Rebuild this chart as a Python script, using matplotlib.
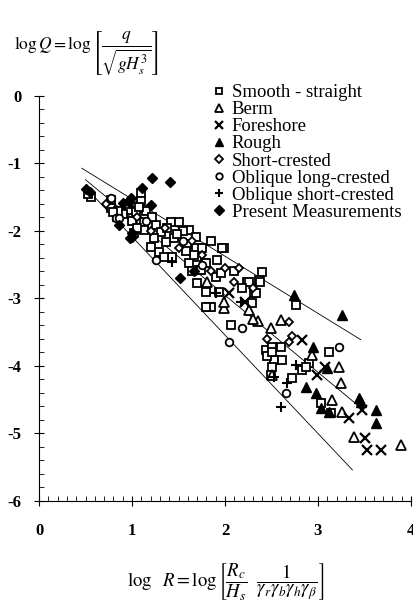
import numpy as np
import matplotlib
matplotlib.use("Agg")
import matplotlib.pyplot as plt
from matplotlib.ticker import MultipleLocator

plt.rcParams["font.family"] = ["Liberation Serif", "DejaVu Serif"]
plt.rcParams["mathtext.fontset"] = "stix"

# ---------------- data ----------------
smooth_x = [0.56, 0.53, 0.77, 0.77, 0.84, 0.97, 1.10, 1.10, 1.04, 1.13, 1.42, 1.51, 1.26, 1.31,
            1.45, 1.37, 1.24, 1.13, 1.02, 1.20, 1.29, 1.43, 1.34, 1.61, 1.69, 1.99, 1.91, 1.90,
            2.40, 2.37, 2.24, 1.59, 1.69, 1.77, 1.70, 1.80, 1.83, 2.06, 1.70, 1.61, 1.72, 2.38,
            2.31, 2.29, 2.76, 2.44, 2.51, 2.53, 2.61, 3.12, 2.90, 2.83, 3.03, 2.72, 1.94, 1.85,
            1.80, 2.33, 2.60, 2.51, 2.49, 2.87, 3.14, 1.97, 1.75, 1.80, 1.67, 1.74, 1.65, 1.96,
            0.95, 0.90, 0.85, 1.00, 1.05, 1.15, 1.85, 1.55, 2.45, 2.50, 2.26, 1.38, 1.48, 1.58,
            2.10, 2.18, 1.22, 1.08, 0.80]
smooth_y = [-1.50, -1.45, -1.54, -1.66, -1.79, -1.69, -1.44, -1.56, -1.72, -1.87, -1.87, -1.87, -1.91, -2.01,
            -2.10, -2.16, -2.10, -1.99, -2.03, -2.24, -2.31, -2.38, -2.38, -1.99, -2.09, -2.25, -2.43, -2.68,
            -2.61, -2.73, -2.76, -2.20, -2.25, -2.47, -2.77, -2.90, -3.12, -3.39, -2.38, -2.48, -2.58, -2.76,
            -2.92, -3.07, -3.10, -3.76, -3.72, -3.91, -3.91, -3.79, -3.96, -4.06, -4.55, -4.18, -2.90, -3.13,
            -3.13, -2.92, -3.72, -4.01, -4.13, -4.01, -4.70, -2.25, -2.25, -2.47, -2.36, -2.58, -2.60, -2.62,
            -1.60, -1.75, -1.70, -1.85, -1.95, -1.70, -2.15, -2.00, -3.85, -3.80, -2.76, -1.95, -2.05, -2.30,
            -2.60, -2.85, -1.80, -1.65, -1.72]

berm_x = [2.26, 2.35, 2.60, 2.49, 2.94, 3.23, 3.25, 3.15, 3.26, 3.39, 3.89, 2.51, 1.99, 1.81, 1.99, 2.30]
berm_y = [-3.17, -3.34, -3.32, -3.44, -3.84, -4.01, -4.25, -4.50, -4.68, -5.05, -5.17, -4.13, -3.14, -2.76, -3.05, -3.30]

foreshore_x = [2.83, 3.33, 3.51, 3.53, 3.68, 3.47, 2.99, 3.08, 2.04, 2.22]
foreshore_y = [-3.61, -4.77, -5.07, -5.24, -5.24, -4.65, -4.13, -4.01, -2.92, -3.05]

rough_x = [2.74, 3.26, 2.95, 3.10, 2.87, 2.98, 3.03, 3.12, 3.44, 3.46, 3.62, 3.62]
rough_y = [-2.95, -3.24, -3.72, -4.03, -4.31, -4.40, -4.62, -4.68, -4.47, -4.53, -4.65, -4.85]

short_x = [2.69, 2.72, 2.69, 1.05, 1.20, 1.35, 1.50, 1.65, 1.75, 1.85, 2.00, 2.10, 2.15, 2.30, 2.45, 0.72]
short_y = [-3.35, -3.55, -3.65, -1.80, -2.00, -1.95, -2.25, -2.15, -2.35, -2.60, -2.55, -2.75, -2.55, -2.85, -3.60, -1.60]

oblong_x = [0.77, 0.83, 1.26, 2.04, 2.18, 2.66, 3.23, 0.86, 1.15, 1.55, 1.75]
oblong_y = [-1.51, -1.81, -2.43, -3.64, -3.44, -4.40, -3.72, -1.81, -1.85, -2.15, -2.50]

obshort_x = [2.60, 2.76, 2.53, 1.90, 1.43, 2.67, 2.17]
obshort_y = [-4.61, -3.99, -4.16, -2.92, -2.46, -4.25, -3.05]

present_x = [0.50, 0.55, 1.22, 1.41, 1.11, 1.20, 1.00, 0.98, 0.86, 1.52, 1.67, 0.99, 0.90, 0.97, 1.00]
present_y = [-1.38, -1.42, -1.21, -1.27, -1.37, -1.61, -2.03, -2.10, -1.91, -2.69, -2.60, -1.51, -1.58, -1.57, -2.09]

# fitted lines: (x_start, x_end), (y_start, y_end)
line_upper_x = [0.46, 3.46]
line_upper_y = [-1.07, -3.61]
line_mid_x = [0.50, 3.47]
line_mid_y = [-1.24, -4.63]
line_low_x = [0.60, 3.37]
line_low_y = [-1.50, -5.54]

x_ticks = [0, 1, 2, 3, 4]
y_ticks = [0, -1, -2, -3, -4, -5, -6]

# ---------------- plot ----------------
fig = plt.figure(figsize=(4.13, 6.03), dpi=100)
ax = fig.add_axes([39 / 413, 102 / 603, 372 / 413, 405 / 603])

for lx, ly in [(line_upper_x, line_upper_y), (line_mid_x, line_mid_y), (line_low_x, line_low_y)]:
    ax.plot(lx, ly, color="black", lw=0.6, zorder=1)

ms = 5.5
mew = 1.3
ax.plot(smooth_x, smooth_y, ls="none", marker="s", ms=ms, mfc="white", mec="black", mew=mew,
        label="Smooth - straight")
ax.plot(berm_x, berm_y, ls="none", marker="^", ms=ms + 1, mfc="white", mec="black", mew=mew,
        label="Berm")
ax.plot(foreshore_x, foreshore_y, ls="none", marker="x", ms=ms + 1, color="black", mew=1.6,
        label="Foreshore")
ax.plot(rough_x, rough_y, ls="none", marker="^", ms=ms + 1.5, color="black",
        label="Rough")
ax.plot(short_x, short_y, ls="none", marker="D", ms=ms - 1, mfc="white", mec="black", mew=mew,
        label="Short-crested")
ax.plot(oblong_x, oblong_y, ls="none", marker="o", ms=ms, mfc="white", mec="black", mew=mew,
        label="Oblique long-crested")
ax.plot(obshort_x, obshort_y, ls="none", marker="+", ms=ms + 2, color="black", mew=1.5,
        label="Oblique short-crested")
ax.plot(present_x, present_y, ls="none", marker="D", ms=ms, color="black",
        label="Present Measurements")

ax.set_xlim(0, 4)
ax.set_ylim(-6, 0)
ax.spines["top"].set_visible(False)
ax.spines["right"].set_visible(False)
ax.set_xticks(x_ticks)
ax.set_xticklabels([str(v) for v in x_ticks], fontweight="bold")
ax.set_yticks(y_ticks)
ax.set_yticklabels([str(v) for v in y_ticks], fontweight="bold")
ax.xaxis.set_minor_locator(MultipleLocator(0.1))
ax.yaxis.set_minor_locator(MultipleLocator(0.2))
ax.tick_params(which="major", direction="inout", length=7, width=0.8, labelsize=12)
ax.tick_params(which="minor", direction="in", length=3.5, width=0.6)
ax.tick_params(axis="x", which="major", pad=12)
ax.tick_params(axis="y", which="major", pad=9)

leg = ax.legend(loc="upper left", bbox_to_anchor=(213 / 413, 1 - 84 / 603),
                bbox_transform=fig.transFigure, frameon=False, fontsize=13.5,
                handlelength=0.6, handletextpad=0.4, labelspacing=0.0,
                borderaxespad=0, borderpad=0, markerscale=0.85)

fig.text(14 / 413, 1 - 53 / 603,
         r"$\log Q = \log\left[\dfrac{q}{\sqrt{gH_s^3}}\right]$",
         fontsize=12.5, ha="left", va="center")
fig.text(226 / 413, 1 - 582 / 603,
         r"$\log\ \ R = \log\left[\dfrac{R_c}{H_s}\ \ \dfrac{1}{\gamma_r\gamma_b\gamma_h\gamma_\beta}\right]$",
         fontsize=13.5, ha="center", va="center")

fig.savefig("out.png", dpi=100)
